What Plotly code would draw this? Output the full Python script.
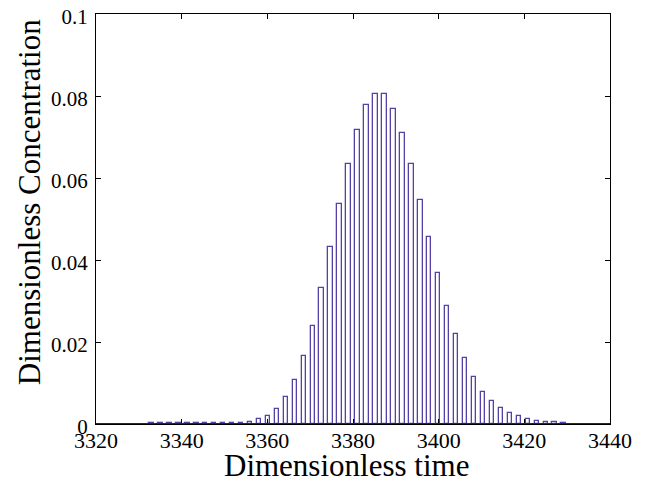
import plotly.graph_objects as go

# Bin centres (dimensionless time) and concentrations
time_bins = [3332.95, 3335.04, 3337.13, 3339.23, 3341.32, 3343.41, 3345.50, 3347.59,
             3349.69, 3351.78, 3353.87, 3355.96, 3358.05, 3360.15, 3362.24, 3364.33,
             3366.42, 3368.51, 3370.61, 3372.70, 3374.79, 3376.88, 3378.97, 3381.07,
             3383.16, 3385.25, 3387.34, 3389.43, 3391.53, 3393.62, 3395.71, 3397.80,
             3399.89, 3401.99, 3404.08, 3406.17, 3408.26, 3410.35, 3412.45, 3414.54,
             3416.63, 3418.72, 3420.81, 3422.91, 3425.00, 3427.09, 3429.18]
concentration = [0.0002, 0.0002, 0.0002, 0.0002, 0.0002, 0.0002, 0.0002, 0.0002,
                 0.0002, 0.0002, 0.0003, 0.0004, 0.0011, 0.0019, 0.0037, 0.0066,
                 0.0107, 0.0165, 0.0239, 0.0331, 0.0432, 0.0537, 0.0633, 0.0718,
                 0.0777, 0.0806, 0.0804, 0.0768, 0.0710, 0.0634, 0.0546, 0.0455,
                 0.0368, 0.0287, 0.0219, 0.0160, 0.0115, 0.0078, 0.0056, 0.0040,
                 0.0028, 0.0019, 0.0013, 0.0007, 0.0005, 0.0004, 0.0003]

x_ticks = [3320, 3340, 3360, 3380, 3400, 3420, 3440]
y_ticks = [0, 0.02, 0.04, 0.06, 0.08, 0.1]
y_ticktext = ["0", "0.02", "0.04", "0.06", "0.08", "0.1"]
x_title = "Dimensionless time"
y_title = "Dimensionless Concentration"

FONT = "Liberation Serif"

fig = go.Figure()
fig.add_trace(go.Bar(
    x=time_bins, y=concentration, width=1.05,
    marker=dict(color="white", line=dict(color="rgb(85,65,165)", width=1.3)),
))

fig.add_shape(type="line", xref="paper", yref="y", x0=0, x1=1, y0=0, y1=0,
              line=dict(color="rgb(40,30,90)", width=2))

axis_common = dict(showline=True, linecolor="black", linewidth=1, mirror="allticks",
                   ticks="inside", ticklen=5, tickcolor="black", showgrid=False,
                   zeroline=False, automargin=False, ticklabeloverflow="allow")

fig.update_xaxes(range=[3320, 3440], tickvals=x_ticks, ticklabelstandoff=-3,
                 tickfont=dict(family=FONT, size=22, color="black"), **axis_common)
fig.update_yaxes(range=[0, 0.1], tickvals=y_ticks, ticktext=y_ticktext, ticklabelstandoff=3,
                 ticklabelshift=3, tickfont=dict(family=FONT, size=21, color="black"),
                 **axis_common)

fig.add_annotation(text=x_title, xref="paper", yref="paper", x=0.488, y=0, yshift=-41,
                   xanchor="center", yanchor="middle", showarrow=False,
                   font=dict(family=FONT, size=31, color="black"))
fig.add_annotation(text=y_title, xref="paper", yref="paper", x=0, xshift=-67, y=0.541,
                   xanchor="center", yanchor="middle", textangle=-90, showarrow=False,
                   font=dict(family=FONT, size=31, color="black"))

fig.update_layout(width=648, height=489, margin=dict(l=88, r=46, t=6, b=73, autoexpand=False),
                  font=dict(family=FONT, color="black"),
                  plot_bgcolor="white", paper_bgcolor="white", showlegend=False,
                  bargap=0)

fig.write_html("out.html")
